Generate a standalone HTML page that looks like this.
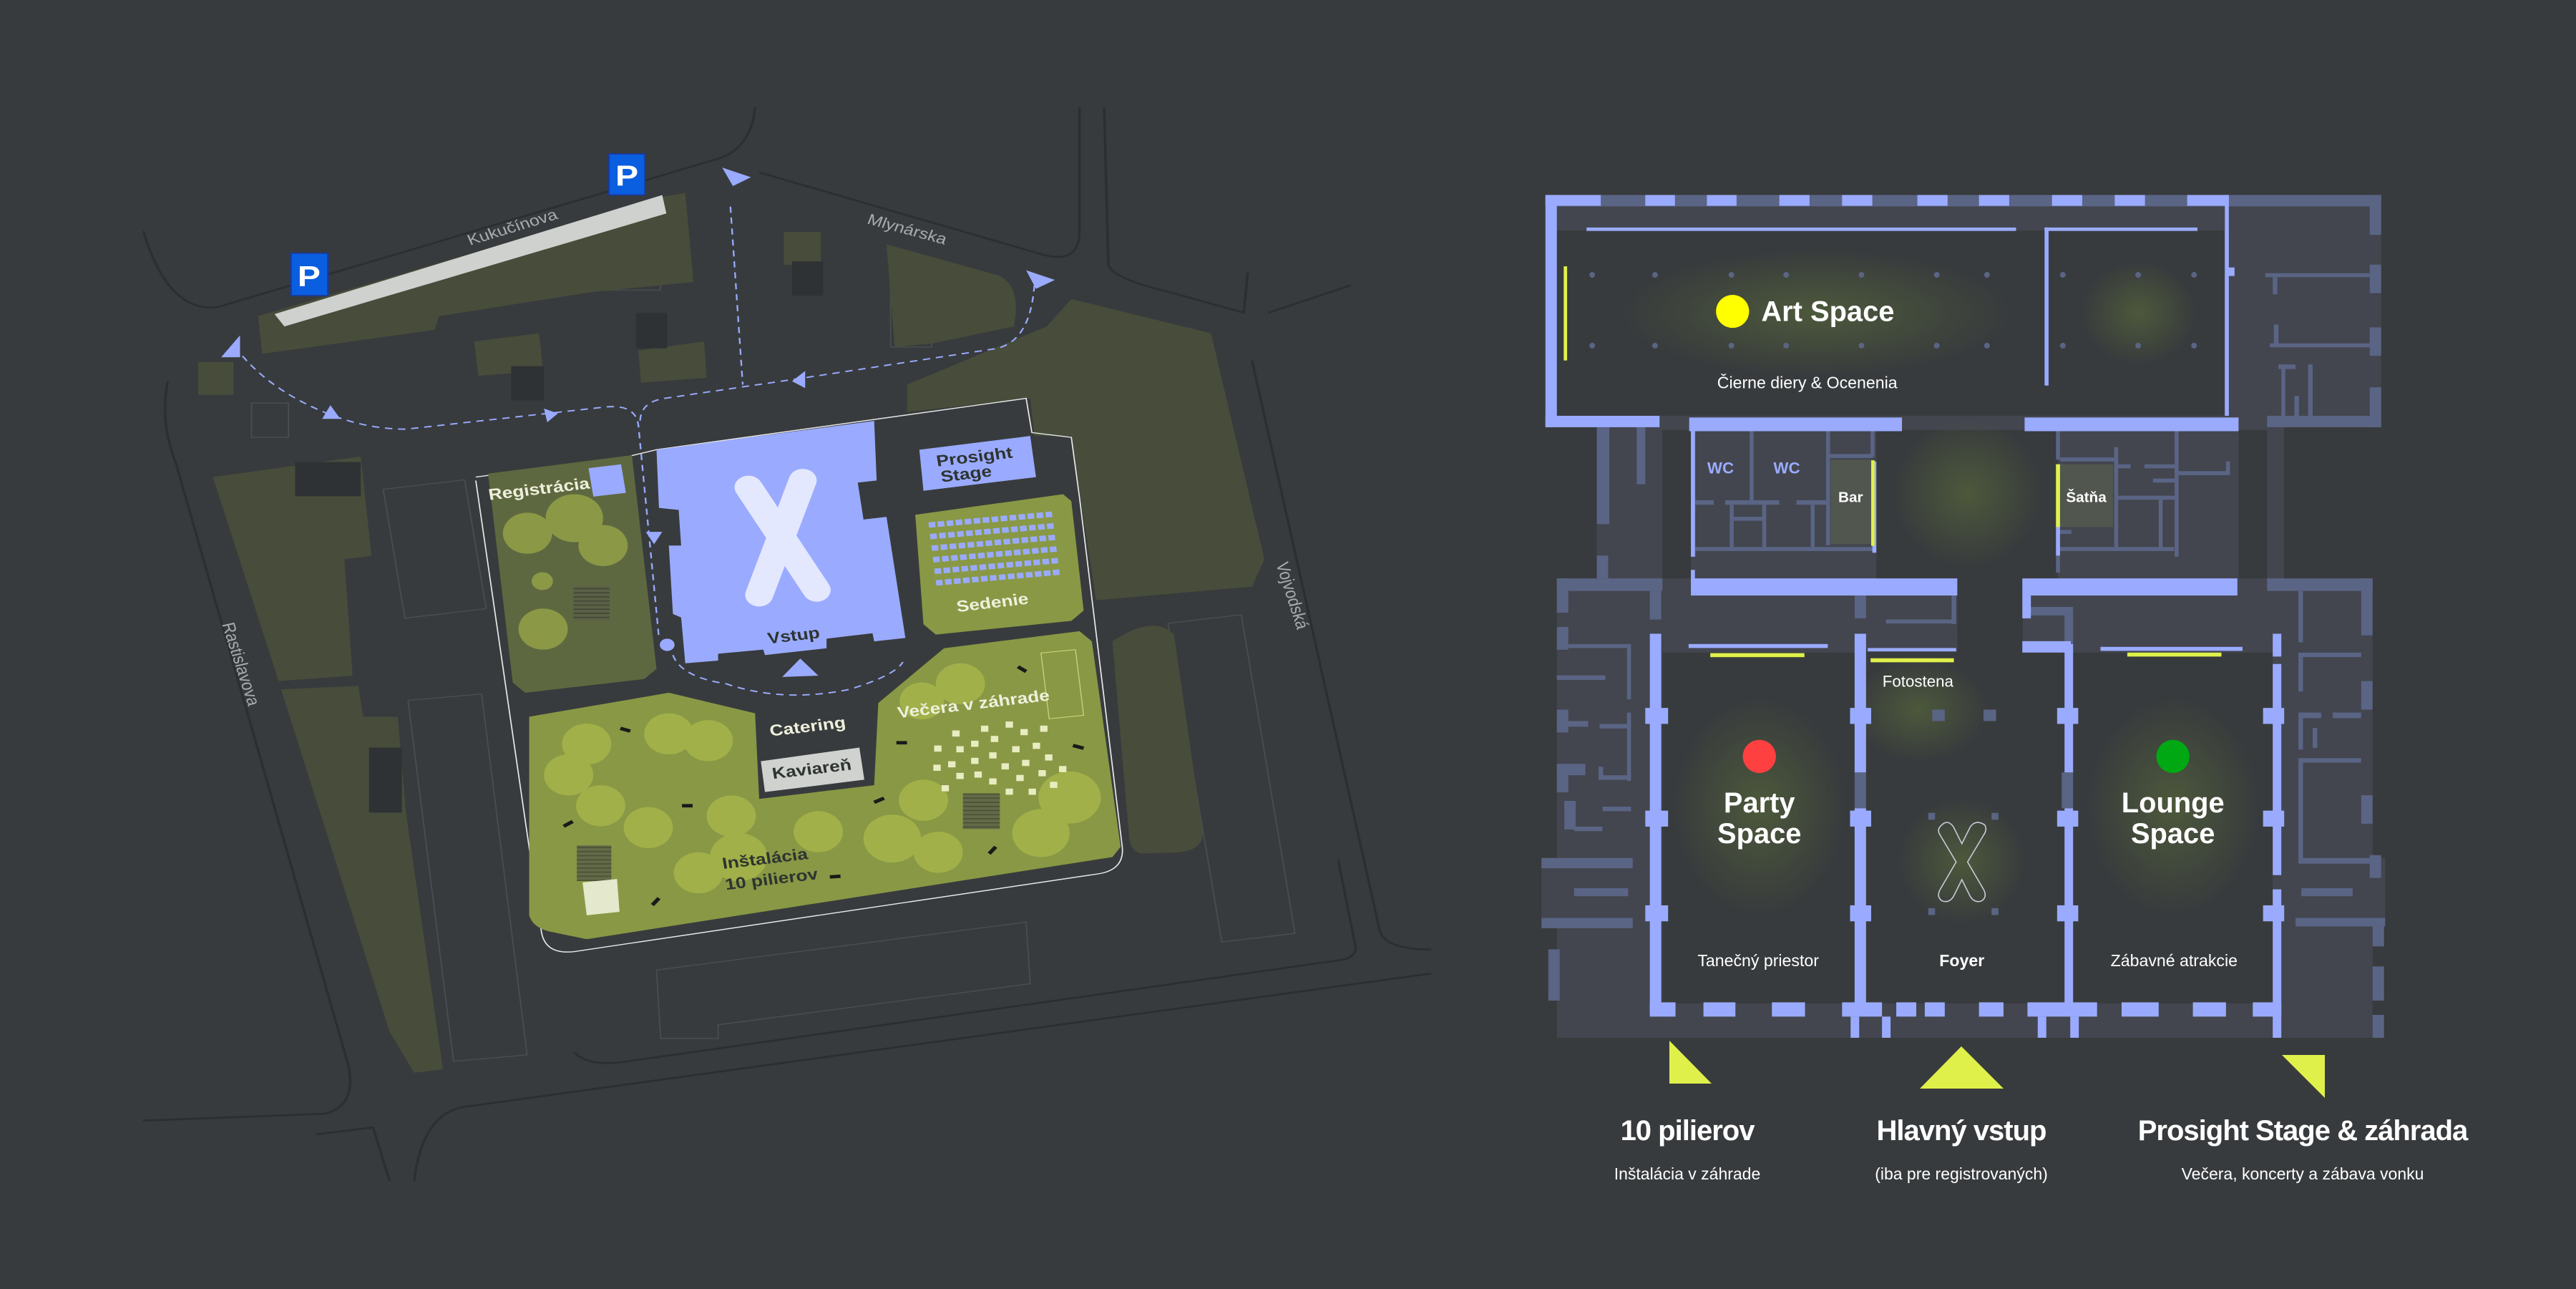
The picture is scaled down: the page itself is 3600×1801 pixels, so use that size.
<!DOCTYPE html>
<html><head><meta charset="utf-8"><style>
html,body{margin:0;padding:0;background:#383b3d;}
body{width:3600px;height:1801px;position:relative;overflow:hidden;font-family:"Liberation Sans",sans-serif;}
svg{position:absolute;}
.lg{position:absolute;color:#fff;text-align:center;width:700px;}
.lg .t{font-size:40px;font-weight:bold;letter-spacing:-1px;}
.lg .s{font-size:23px;margin-top:24px;}
</style></head><body>

<svg style="left:200px;top:150px" width="1800" height="1500" viewBox="0 0 1568 1568" preserveAspectRatio="none">
<defs><style>text{font-family:"Liberation Sans",sans-serif;}</style>
<pattern id="st" width="6" height="6" patternUnits="userSpaceOnUse"><rect width="6" height="6" fill="#595f48"/><rect width="6" height="2" fill="#3e4236"/></pattern></defs>
<g fill="none" stroke="#2c2f31" stroke-width="3">
<path d="M0,180 Q30,300 90,292 L700,75 Q740,60 745,0"/>
<path d="M750,95 L1095,215 Q1140,230 1140,180 L1140,0"/>
<path d="M30,400 Q20,460 40,520 L250,1400 Q260,1460 220,1470 L0,1480"/>
<path d="M1170,0 L1175,230 Q1180,250 1250,270 L1340,300 L1345,240"/>
<path d="M1370,300 L1470,260"/>
<path d="M1350,370 L1505,1200 Q1510,1230 1568,1230"/>
<path d="M525,1380 Q540,1400 580,1395 L1460,1245 Q1480,1240 1475,1220 L1455,1100"/>
<path d="M330,1568 Q340,1470 390,1460 L1568,1265"/>
<path d="M210,1500 L280,1490 L300,1568"/>
</g>
<g fill="none" stroke="#4a4e50" stroke-width="1.5">
<rect x="305" y="550" width="100" height="190" transform="rotate(-8 355 645)"/>
<rect x="350" y="860" width="90" height="530" transform="rotate(-6 395 1125)"/>
<rect x="1140" y="405" width="90" height="280" transform="rotate(-8 1185 545)"/>
<rect x="1280" y="745" width="90" height="470" transform="rotate(-8 1325 980)"/>
<path d="M625,1260 L1075,1190 L1080,1280 L700,1340 L700,1360 L630,1360Z"/>
<rect x="132" y="432" width="45" height="50"/>
<rect x="545" y="212" width="85" height="55"/>
<rect x="910" y="252" width="50" height="98"/>
</g>
<g fill="#474d3a">
<path d="M140,305 L635,130 L660,125 L670,255 L545,270 L360,305 L355,325 L145,360Z"/>
<path d="M85,540 L265,510 L278,655 L245,660 L255,830 L165,838Z"/>
<path d="M168,850 L262,845 L268,890 L310,890 L320,1030 L365,1405 L330,1410 L300,1350Z"/>
<path d="M930,405 L1100,320 L1130,280 L1300,330 L1365,660 L1350,700 L1160,720 L1130,480 L1085,480 L1080,425 L930,445Z"/>
<path d="M1180,780 Q1230,740 1255,770 L1290,1060 Q1290,1085 1260,1088 L1215,1090 Q1200,1085 1200,1060Z"/>
<rect x="780" y="182" width="45" height="48"/>
<path d="M403,342 L482,330 L487,385 L408,392Z"/>
<path d="M603,355 L683,342 L686,395 L606,402Z"/>
<path d="M905,200 L1040,245 Q1070,260 1060,320 L960,345 L915,350Z"/>
<rect x="67" y="372" width="43" height="48"/>
</g>
<g fill="#2f3234">
<rect x="185" y="518" width="80" height="50"/><rect x="275" y="935" width="40" height="95"/>
<rect x="790" y="225" width="38" height="50"/><rect x="600" y="300" width="38" height="52"/><rect x="448" y="378" width="40" height="50"/>
</g>
<path d="M405,540 L590,510 L625,500 L1075,425 L1082,475 L1130,482 L1140,570 L1192,1080 Q1195,1115 1160,1120 L525,1233 Q490,1238 485,1205 L405,545" fill="none" stroke="#e8e8e8" stroke-width="1.5"/>
<path d="M420,535 L595,508 L625,820 L610,835 L465,855 L450,840Z" fill="#5e6840"/>
<path d="M470,890 L640,855 L745,885 L750,1010 L890,990 L895,870 L975,790 L1140,765 L1155,780 L1190,1080 L1180,1095 L540,1215 L500,1205 Q475,1200 470,1180Z" fill="#899845"/>
<path d="M940,595 L1120,565 L1130,575 L1145,735 L1130,750 L965,770 L950,755Z" fill="#899845"/>
<g fill="#b9c84c" opacity="0.5">
<circle cx="468" cy="622" r="30"/><circle cx="525" cy="600" r="35"/><circle cx="560" cy="640" r="30"/><circle cx="486" cy="692" r="13"/><circle cx="487" cy="762" r="30"/>
<circle cx="540" cy="930" r="30"/><circle cx="518" cy="975" r="30"/><circle cx="557" cy="1020" r="30"/><circle cx="640" cy="915" r="30"/><circle cx="688" cy="925" r="30"/><circle cx="615" cy="1052" r="30"/><circle cx="716" cy="1035" r="30"/><circle cx="725" cy="1095" r="35"/><circle cx="676" cy="1118" r="30"/><circle cx="822" cy="1058" r="30"/><circle cx="912" cy="1068" r="35"/><circle cx="968" cy="1088" r="30"/><circle cx="950" cy="1012" r="30"/><circle cx="995" cy="842" r="30"/><circle cx="948" cy="867" r="27"/><circle cx="1128" cy="1008" r="38"/><circle cx="1093" cy="1060" r="35"/>
</g>
<g fill="url(#st)" opacity=".8"><rect x="524" y="700" width="44" height="50"/><rect x="528" y="1078" width="42" height="52"/><rect x="998" y="1002" width="45" height="52"/></g>
<path d="M535,1132 L577,1127 L580,1175 L540,1180Z" fill="#e4e8cc"/>
<path d="M1093,797 L1135,792 L1145,888 L1103,893Z" fill="none" stroke="#c9d275" stroke-width="1.2"/>
<path d="M625,500 L890,458 L893,545 L870,548 L877,602 L905,598 L928,775 L890,780 L888,768 L832,776 L832,790 L757,800 L755,792 L700,798 L700,808 L660,812 L655,745 L645,740 L640,640 L655,640 L652,588 L628,585Z" fill="#9aabff"/>
<g stroke="#e4e8ff" stroke-width="34" stroke-linecap="round"><line x1="737" y1="555" x2="820" y2="705"/><line x1="803" y1="545" x2="750" y2="712"/></g>
<path d="M945,500 L1080,480 L1087,540 L950,560Z" fill="#9aabff"/>
<rect x="545" y="524" width="40" height="42" fill="#9aabff" transform="rotate(-8 565 545)"/>
<g fill="#9aabff" transform="rotate(-6 1035 640)">
<g id="row"><rect x="960" y="598" width="8" height="8"/><rect x="971" y="598" width="8" height="8"/><rect x="982" y="598" width="8" height="8"/><rect x="993" y="598" width="8" height="8"/><rect x="1004" y="598" width="8" height="8"/><rect x="1015" y="598" width="8" height="8"/><rect x="1026" y="598" width="8" height="8"/><rect x="1037" y="598" width="8" height="8"/><rect x="1048" y="598" width="8" height="8"/><rect x="1059" y="598" width="8" height="8"/><rect x="1070" y="598" width="8" height="8"/><rect x="1081" y="598" width="8" height="8"/><rect x="1092" y="598" width="8" height="8"/><rect x="1103" y="598" width="8" height="8"/></g>
<use href="#row" y="17"/><use href="#row" y="34"/><use href="#row" y="51"/><use href="#row" y="68"/><use href="#row" y="85"/>
</g>
<path d="M752,955 L872,935 L878,982 L757,1000Z" fill="#d0d2d0"/>
<g fill="#e8ecc0">
<rect x="985" y="910" width="9" height="9"/><rect x="1020" y="903" width="9" height="9"/><rect x="1050" y="897" width="9" height="9"/><rect x="1068" y="908" width="9" height="9"/><rect x="1092" y="903" width="9" height="9"/>
<rect x="963" y="932" width="9" height="9"/><rect x="990" y="933" width="9" height="9"/><rect x="1008" y="925" width="9" height="9"/><rect x="1032" y="918" width="9" height="9"/><rect x="1058" y="933" width="9" height="9"/><rect x="1083" y="928" width="9" height="9"/>
<rect x="962" y="960" width="9" height="9"/><rect x="980" y="955" width="9" height="9"/><rect x="1008" y="950" width="9" height="9"/><rect x="1030" y="942" width="9" height="9"/><rect x="1045" y="958" width="9" height="9"/><rect x="1070" y="953" width="9" height="9"/><rect x="1098" y="945" width="9" height="9"/>
<rect x="972" y="990" width="9" height="9"/><rect x="990" y="972" width="9" height="9"/><rect x="1012" y="970" width="9" height="9"/><rect x="1030" y="980" width="9" height="9"/><rect x="1050" y="995" width="9" height="9"/><rect x="1063" y="975" width="9" height="9"/><rect x="1078" y="995" width="9" height="9"/><rect x="1090" y="968" width="9" height="9"/><rect x="1104" y="985" width="9" height="9"/><rect x="1115" y="962" width="9" height="9"/>
</g>
<g stroke="#1a1a1a" stroke-width="5">
<line x1="581" y1="907" x2="593" y2="911"/><line x1="656" y1="1020" x2="669" y2="1020"/><line x1="512" y1="1050" x2="523" y2="1043"/><line x1="620" y1="1165" x2="628" y2="1155"/><line x1="836" y1="1124" x2="849" y2="1123"/><line x1="890" y1="1015" x2="902" y2="1009"/><line x1="917" y1="928" x2="930" y2="928"/><line x1="1065" y1="817" x2="1075" y2="824"/><line x1="1132" y1="932" x2="1145" y2="936"/><line x1="1030" y1="1090" x2="1038" y2="1080"/>
</g>
<g fill="none" stroke="#9aabff" stroke-width="2" stroke-dasharray="9 7">
<path d="M112,350 Q150,410 220,445 Q270,470 320,470 L560,438 Q600,432 603,465 L628,775"/>
<path d="M715,145 L730,405"/>
<path d="M1085,260 Q1080,340 1040,352 L805,395 L635,425 Q605,430 605,460"/>
<path d="M645,800 Q655,832 710,842 Q780,870 860,850 Q915,830 925,810"/>
</g>
<circle cx="638" cy="785" r="9" fill="#9aabff"/>
<g fill="#9aabff">
<path d="M705,88 L740,102 L718,115Z"/><path d="M1075,238 L1110,252 L1087,265Z"/><path d="M95,365 L118,333 L118,365Z"/>
<path d="M218,455 L228,435 L240,455Z"/><path d="M488,440 L505,447 L492,460Z"/><path d="M806,385 L806,410 L790,400Z"/>
<path d="M612,620 L632,620 L622,638Z"/><path d="M778,832 L800,805 L822,830Z"/>
</g>
<path d="M160,302 L632,128 L637,155 L172,320Z" fill="#cfd1cf"/>
<g><rect x="180" y="213" width="45" height="62" fill="#0a5fe0" stroke="#1a3a9a" stroke-width="2"/><text x="202" y="261" font-size="42" font-weight="bold" fill="#fff" text-anchor="middle">P</text>
<rect x="567" y="68" width="44" height="60" fill="#0a5fe0" stroke="#1a3a9a" stroke-width="2"/><text x="589" y="114" font-size="42" font-weight="bold" fill="#fff" text-anchor="middle">P</text></g>
<g font-size="22" fill="#a8acad" text-anchor="middle">
<text transform="translate(452,182) rotate(-20)">Kukučínova</text>
<text transform="translate(928,185) rotate(18)">Mlynárska</text>
<text transform="translate(112,815) rotate(75)">Rastislavova</text>
<text transform="translate(1392,715) rotate(75)">Vojvodská</text>
</g>
<g font-size="23" font-weight="bold" text-anchor="middle">
<text transform="translate(483,565) rotate(-8)" fill="#eef0dc">Registrácia</text>
<text transform="translate(1013,518) rotate(-8)" fill="#2e3430">Prosight</text>
<text transform="translate(1003,543) rotate(-8)" fill="#2e3430">Stage</text>
<text transform="translate(1035,731) rotate(-8)" fill="#eef0dc">Sedenie</text>
<text transform="translate(793,779) rotate(-8)" fill="#2e3430">Vstup</text>
<text transform="translate(810,912) rotate(-8)" fill="#eef0dc">Catering</text>
<text transform="translate(815,974) rotate(-8)" fill="#2e3430">Kaviareň</text>
<text transform="translate(1012,879) rotate(-8)" fill="#eef0dc">Večera v záhrade</text>
<text transform="translate(758,1105) rotate(-8)" fill="#2e3430">Inštalácia</text>
<text transform="translate(766,1135) rotate(-8)" fill="#2e3430">10 pilierov</text>
</g>
</svg>

<svg style="left:2100px;top:250px" width="1250" height="1200" viewBox="0 0 1568 1505">
<defs>
<radialGradient id="gl"><stop offset="0" stop-color="#55653a" stop-opacity=".7"/><stop offset="1" stop-color="#55653a" stop-opacity="0"/></radialGradient>
<style>text{font-family:"Liberation Sans",sans-serif;}</style>
</defs>
<g fill="#43464f">
<rect x="75" y="28" width="1465" height="407"/>
<rect x="165" y="420" width="115" height="1115"/>
<rect x="95" y="700" width="185" height="835"/>
<rect x="68" y="1190" width="30" height="120"/>
<rect x="280" y="415" width="1065" height="1120"/>
<rect x="1340" y="420" width="30" height="290"/>
<rect x="1340" y="700" width="185" height="835"/>
<rect x="1520" y="1190" width="27" height="120"/>
</g>
<g fill="#383b3d">
<rect x="95" y="90" width="1170" height="325"/>
<rect x="280" y="830" width="337" height="615"/>
<rect x="637" y="828" width="348" height="617"/>
<rect x="1000" y="830" width="350" height="615"/>
<rect x="655" y="440" width="318" height="260"/>
<rect x="797" y="700" width="115" height="130"/>
<rect x="280" y="440" width="50" height="260"/>
<rect x="1290" y="440" width="50" height="260"/>
<rect x="1370" y="435" width="198" height="265"/>
<rect x="0" y="435" width="165" height="265"/>
<rect x="682" y="1468" width="256" height="65" fill="#43464f"/>
</g>
<g fill="url(#gl)">
<ellipse cx="550" cy="235" rx="340" ry="110"/><ellipse cx="1115" cy="235" rx="100" ry="90"/>
<ellipse cx="815" cy="550" rx="130" ry="130"/><ellipse cx="730" cy="930" rx="120" ry="90"/>
<ellipse cx="450" cy="1100" rx="150" ry="190"/><ellipse cx="805" cy="1195" rx="110" ry="110"/><ellipse cx="1175" cy="1100" rx="150" ry="190"/>
</g>
<rect x="575" y="492" width="72" height="148" fill="#51564f"/>
<rect x="975" y="500" width="95" height="110" fill="#51564f"/>
<g fill="#5a6484">
<rect x="75" y="28" width="1465" height="20"/>
<rect x="1520" y="28" width="20" height="70"/><rect x="1520" y="150" width="20" height="50"/><rect x="1520" y="260" width="20" height="50"/><rect x="1520" y="365" width="20" height="70"/>
<rect x="1340" y="415" width="200" height="20"/><rect x="1337" y="165" width="183" height="7"/><rect x="1345" y="288" width="175" height="7"/><rect x="1350" y="172" width="8" height="30"/><rect x="1352" y="255" width="8" height="40"/>
<rect x="1360" y="325" width="30" height="8"/><rect x="1365" y="325" width="7" height="90"/><rect x="1412" y="325" width="8" height="90"/><rect x="1388" y="380" width="8" height="35"/>
<rect x="165" y="435" width="22" height="170"/><rect x="235" y="435" width="15" height="100"/><rect x="165" y="660" width="20" height="40"/>
<rect x="95" y="700" width="185" height="22"/><rect x="95" y="700" width="20" height="60"/><rect x="258" y="722" width="20" height="50"/>
<rect x="95" y="785" width="20" height="40"/><rect x="95" y="815" width="130" height="7"/><rect x="218" y="822" width="7" height="90"/><rect x="95" y="870" width="85" height="8"/><rect x="95" y="930" width="20" height="40"/><rect x="95" y="950" width="55" height="10"/><rect x="170" y="955" width="55" height="8"/><rect x="218" y="935" width="7" height="120"/>
<rect x="95" y="1025" width="20" height="50"/><rect x="95" y="1025" width="50" height="20"/><rect x="168" y="1030" width="8" height="20"/><rect x="168" y="1045" width="55" height="8"/><rect x="108" y="1090" width="20" height="50"/><rect x="125" y="1135" width="50" height="8"/><rect x="175" y="1100" width="50" height="8"/>
<rect x="68" y="1190" width="160" height="18"/><rect x="68" y="1295" width="160" height="18"/><rect x="125" y="1243" width="95" height="14"/><rect x="80" y="1350" width="20" height="90"/><rect x="80" y="1515" width="80" height="20"/><rect x="190" y="1515" width="90" height="20"/>
<rect x="1340" y="700" width="185" height="22"/><rect x="1505" y="700" width="20" height="100"/><rect x="1395" y="722" width="8" height="90"/><rect x="1395" y="830" width="110" height="8"/><rect x="1395" y="838" width="8" height="60"/><rect x="1505" y="880" width="20" height="50"/><rect x="1395" y="935" width="40" height="10"/><rect x="1455" y="935" width="50" height="10"/><rect x="1395" y="945" width="8" height="55"/><rect x="1420" y="962" width="8" height="35"/><rect x="1395" y="1015" width="110" height="8"/><rect x="1395" y="1023" width="8" height="170"/><rect x="1505" y="1080" width="20" height="50"/><rect x="1395" y="1190" width="130" height="10"/><rect x="1520" y="1185" width="20" height="40"/>
<rect x="1400" y="1243" width="90" height="14"/><rect x="1390" y="1295" width="157" height="15"/><rect x="1525" y="1310" width="20" height="35"/><rect x="1525" y="1380" width="20" height="60"/><rect x="1525" y="1465" width="20" height="70"/><rect x="1435" y="1515" width="20" height="20"/><rect x="1485" y="1515" width="60" height="20"/>
<rect x="333" y="442" width="5" height="220"/><rect x="433" y="442" width="7" height="125"/><rect x="567" y="442" width="7" height="200"/><rect x="645" y="442" width="7" height="45"/>
<rect x="335" y="563" width="35" height="8"/><rect x="390" y="563" width="95" height="8"/><rect x="515" y="563" width="52" height="8"/><rect x="398" y="571" width="7" height="80"/><rect x="455" y="571" width="7" height="80"/><rect x="405" y="592" width="50" height="7"/><rect x="540" y="571" width="7" height="80"/><rect x="335" y="645" width="315" height="7"/><rect x="574" y="482" width="75" height="7"/>
<rect x="970" y="442" width="7" height="50"/><rect x="970" y="615" width="7" height="75"/><rect x="977" y="488" width="100" height="7"/><rect x="1072" y="470" width="7" height="180"/><rect x="1079" y="500" width="22" height="7"/><rect x="1125" y="500" width="55" height="7"/><rect x="1140" y="525" width="40" height="7"/><rect x="1079" y="555" width="100" height="7"/><rect x="1150" y="562" width="7" height="85"/><rect x="1178" y="442" width="7" height="220"/><rect x="1185" y="512" width="90" height="7"/><rect x="1268" y="495" width="7" height="24"/><rect x="977" y="645" width="200" height="7"/><rect x="977" y="615" width="20" height="7"/>
<rect x="617" y="730" width="20" height="40"/><rect x="672" y="772" width="120" height="7"/><rect x="787" y="730" width="8" height="50"/>
<rect x="925" y="750" width="75" height="15"/><rect x="985" y="765" width="15" height="50"/><rect x="617" y="1040" width="20" height="63"/><rect x="980" y="1040" width="20" height="63"/>
</g>
<g fill="#9aabff">
<rect x="75" y="28" width="97" height="19"/><rect x="250" y="28" width="52" height="19"/><rect x="358" y="28" width="52" height="19"/><rect x="485" y="28" width="53" height="19"/><rect x="595" y="28" width="53" height="19"/><rect x="727" y="28" width="53" height="19"/><rect x="835" y="28" width="53" height="19"/><rect x="963" y="28" width="53" height="19"/><rect x="1073" y="28" width="53" height="19"/><rect x="1200" y="28" width="73" height="19"/>
<rect x="75" y="28" width="20" height="407"/><rect x="75" y="415" width="200" height="20"/>
<rect x="147" y="85" width="753" height="6"/><rect x="950" y="85" width="268" height="6"/><rect x="950" y="85" width="7" height="277"/><rect x="1266" y="28" width="7" height="387"/><rect x="1268" y="155" width="15" height="15"/>
<rect x="327" y="418" width="373" height="24"/><rect x="915" y="418" width="375" height="24"/>
<rect x="330" y="442" width="7" height="220"/><rect x="648" y="495" width="7" height="160"/><rect x="970" y="500" width="7" height="160"/><rect x="330" y="685" width="7" height="20"/>
<rect x="330" y="700" width="467" height="30"/><rect x="911" y="700" width="377" height="30"/><rect x="911" y="730" width="15" height="40"/><rect x="911" y="810" width="85" height="20"/>
<rect x="258" y="797" width="20" height="668"/><rect x="617" y="797" width="20" height="243"/><rect x="617" y="1103" width="20" height="362"/><rect x="985" y="815" width="15" height="225"/><rect x="985" y="1103" width="15" height="362"/><rect x="1350" y="797" width="15" height="40"/><rect x="1350" y="850" width="15" height="370"/><rect x="1350" y="1245" width="15" height="290"/>
<rect x="250" y="927" width="40" height="28"/><rect x="250" y="1107" width="40" height="28"/><rect x="250" y="1273" width="40" height="28"/>
<rect x="609" y="927" width="37" height="28"/><rect x="609" y="1107" width="37" height="28"/><rect x="609" y="1273" width="37" height="28"/>
<rect x="972" y="927" width="37" height="28"/><rect x="972" y="1107" width="37" height="28"/><rect x="972" y="1273" width="37" height="28"/>
<rect x="1333" y="927" width="37" height="28"/><rect x="1333" y="1107" width="37" height="28"/><rect x="1333" y="1273" width="37" height="28"/>
<rect x="258" y="1443" width="45" height="25"/><rect x="352" y="1443" width="56" height="25"/><rect x="472" y="1443" width="58" height="25"/><rect x="595" y="1443" width="70" height="25"/><rect x="690" y="1443" width="35" height="25"/><rect x="740" y="1443" width="35" height="25"/><rect x="835" y="1443" width="43" height="25"/><rect x="920" y="1443" width="122" height="25"/><rect x="1085" y="1443" width="65" height="25"/><rect x="1210" y="1443" width="58" height="25"/><rect x="1315" y="1443" width="50" height="25"/>
<rect x="610" y="1468" width="15" height="65"/><rect x="610" y="1518" width="72" height="15"/><rect x="665" y="1468" width="15" height="50"/>
<rect x="938" y="1468" width="15" height="50"/><rect x="938" y="1518" width="72" height="15"/><rect x="995" y="1468" width="15" height="65"/>
<rect x="1348" y="1515" width="55" height="20"/>
<rect x="326" y="815" width="244" height="7"/><rect x="640" y="822" width="155" height="6"/><rect x="1048" y="820" width="249" height="7"/>
<rect x="753" y="930" width="22" height="20" fill="#5a6484"/><rect x="843" y="930" width="22" height="20" fill="#5a6484"/>
</g>
<g fill="#dff04a">
<rect x="107" y="153" width="6" height="165"/><rect x="646" y="493" width="6" height="150"/><rect x="970" y="500" width="7" height="110"/>
<rect x="364" y="831" width="165" height="7"/><rect x="645" y="840" width="146" height="7"/><rect x="1095" y="830" width="165" height="7"/>
</g>
<g fill="#5a6484">
<circle cx="157" cy="168" r="5"/><circle cx="267" cy="168" r="5"/><circle cx="401" cy="168" r="5"/><circle cx="497" cy="168" r="5"/><circle cx="629" cy="168" r="5"/><circle cx="761" cy="168" r="5"/><circle cx="849" cy="168" r="5"/><circle cx="982" cy="168" r="5"/><circle cx="1114" cy="168" r="5"/><circle cx="1212" cy="168" r="5"/>
<circle cx="157" cy="292" r="5"/><circle cx="267" cy="292" r="5"/><circle cx="401" cy="292" r="5"/><circle cx="497" cy="292" r="5"/><circle cx="629" cy="292" r="5"/><circle cx="761" cy="292" r="5"/><circle cx="849" cy="292" r="5"/><circle cx="982" cy="292" r="5"/><circle cx="1114" cy="292" r="5"/><circle cx="1212" cy="292" r="5"/>
<rect x="746" y="1111" width="12" height="12"/><rect x="857" y="1111" width="12" height="12"/><rect x="746" y="1278" width="12" height="12"/><rect x="857" y="1278" width="12" height="12"/>
</g>
<g fill="none" stroke="#c8ccd8" stroke-width="2">
<path d="M770,1132 Q780,1122 790,1135 L805,1165 L820,1135 Q830,1122 845,1132 Q850,1140 843,1150 L815,1197 L843,1245 Q850,1258 840,1265 Q828,1270 820,1258 L805,1228 L790,1258 Q782,1270 770,1265 Q760,1258 767,1245 L795,1197 L767,1150 Q760,1140 770,1132Z"/>
</g>
<circle cx="403" cy="232" r="29" fill="#ffff00"/>
<circle cx="450" cy="1012" r="29" fill="#ff4040"/>
<circle cx="1175" cy="1012" r="29" fill="#00a814"/>
<g fill="#fff" text-anchor="middle">
<text x="570" y="249" font-size="50" font-weight="bold">Art Space</text>
<text x="534" y="367" font-size="29">Čierne diery &amp; Ocenenia</text>
<text x="610" y="566" font-size="26" font-weight="bold">Bar</text>
<text x="1023" y="566" font-size="26" font-weight="bold">Šatňa</text>
<text x="728" y="890" font-size="28">Fotostena</text>
<text x="450" y="1110" font-size="50" font-weight="bold">Party</text>
<text x="450" y="1164" font-size="50" font-weight="bold">Space</text>
<text x="1175" y="1110" font-size="50" font-weight="bold">Lounge</text>
<text x="1175" y="1164" font-size="50" font-weight="bold">Space</text>
<text x="448" y="1380" font-size="29">Tanečný priestor</text>
<text x="805" y="1380" font-size="29" font-weight="bold">Foyer</text>
<text x="1177" y="1380" font-size="29">Zábavné atrakcie</text>
<text x="382" y="516" font-size="28" font-weight="bold" fill="#9aabff">WC</text>
<text x="498" y="516" font-size="28" font-weight="bold" fill="#9aabff">WC</text>
</g>
</svg>

<svg style="left:0;top:0" width="3600" height="1801">
<g fill="#dff04a">
<path d="M2333,1454 L2333,1514 L2392,1514Z"/>
<path d="M2741,1462 L2683,1521 L2800,1521Z"/>
<path d="M3189,1474 L3249,1474 L3249,1534Z"/>
</g>
</svg>
<div class="lg" style="left:2008px;top:1558px"><div class="t">10 pilierov</div><div class="s">Inštalácia v záhrade</div></div>
<div class="lg" style="left:2391px;top:1558px"><div class="t">Hlavný vstup</div><div class="s">(iba pre registrovaných)</div></div>
<div class="lg" style="left:2868px;top:1558px"><div class="t">Prosight Stage &amp; záhrada</div><div class="s">Večera, koncerty a zábava vonku</div></div>
</body></html>
